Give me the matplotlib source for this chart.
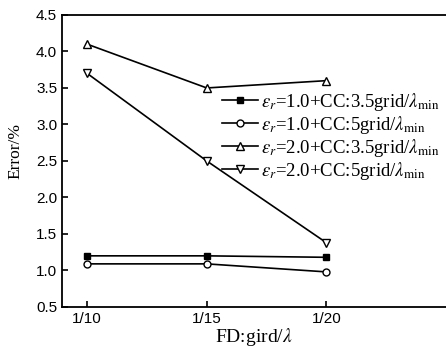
import matplotlib
matplotlib.use('Agg')
import matplotlib.pyplot as plt

plt.rcParams['mathtext.fontset'] = 'stix'

x_labels = ['1/10', '1/15', '1/20']
err_e1_cc35 = [1.20, 1.20, 1.18]
err_e1_cc5 = [1.09, 1.09, 0.98]
err_e2_cc35 = [4.10, 3.50, 3.60]
err_e2_cc5 = [3.70, 2.50, 1.38]

series_labels = [
    r'$\varepsilon_r$=1.0+CC:3.5grid/$\lambda_{\rm min}$',
    r'$\varepsilon_r$=1.0+CC:5grid/$\lambda_{\rm min}$',
    r'$\varepsilon_r$=2.0+CC:3.5grid/$\lambda_{\rm min}$',
    r'$\varepsilon_r$=2.0+CC:5grid/$\lambda_{\rm min}$',
]

fig = plt.figure(figsize=(4.46, 3.48), dpi=100)
ax = fig.add_axes([0.139, 0.118, 0.861, 0.839])

xs = range(len(x_labels))
ax.plot(xs, err_e1_cc35, '-s', color='black', mfc='black', ms=5, lw=1.2, label=series_labels[0])
ax.plot(xs, err_e1_cc5, '-o', color='black', mfc='white', ms=5, lw=1.2, label=series_labels[1])
ax.plot(xs, err_e2_cc35, '-^', color='black', mfc='white', ms=6, lw=1.2, label=series_labels[2])
ax.plot(xs, err_e2_cc5, '-v', color='black', mfc='white', ms=6, lw=1.2, label=series_labels[3])

ax.set_xlim(-0.21, 3.0)
ax.set_ylim(0.5, 4.5)
ax.set_xticks(list(xs))
ax.set_xticklabels(x_labels)
ax.set_yticks([0.5, 1.0, 1.5, 2.0, 2.5, 3.0, 3.5, 4.0, 4.5])
ax.tick_params(direction='in', length=4, width=1.2, labelsize=11)
for lab in ax.get_xticklabels() + ax.get_yticklabels():
    lab.set_family('Liberation Sans')
ax.spines['right'].set_visible(False)
for s in ['left', 'bottom', 'top']:
    ax.spines[s].set_linewidth(1.3)

ax.set_xlabel('FD:gird/$\\lambda$', family='Liberation Serif', fontsize=14, labelpad=0)
ax.set_ylabel('Error/%', family='Liberation Serif', fontsize=12.5)
ax.yaxis.set_label_coords(-0.10, 0.535)

leg = ax.legend(loc='upper left', bbox_to_anchor=(0.482, 0.76), bbox_transform=fig.transFigure,
                frameon=False, prop={'family': 'Liberation Serif', 'size': 13.5},
                handlelength=1.9, handletextpad=0.15, labelspacing=0.05, borderaxespad=0)

fig.savefig('out.png', dpi=100)
